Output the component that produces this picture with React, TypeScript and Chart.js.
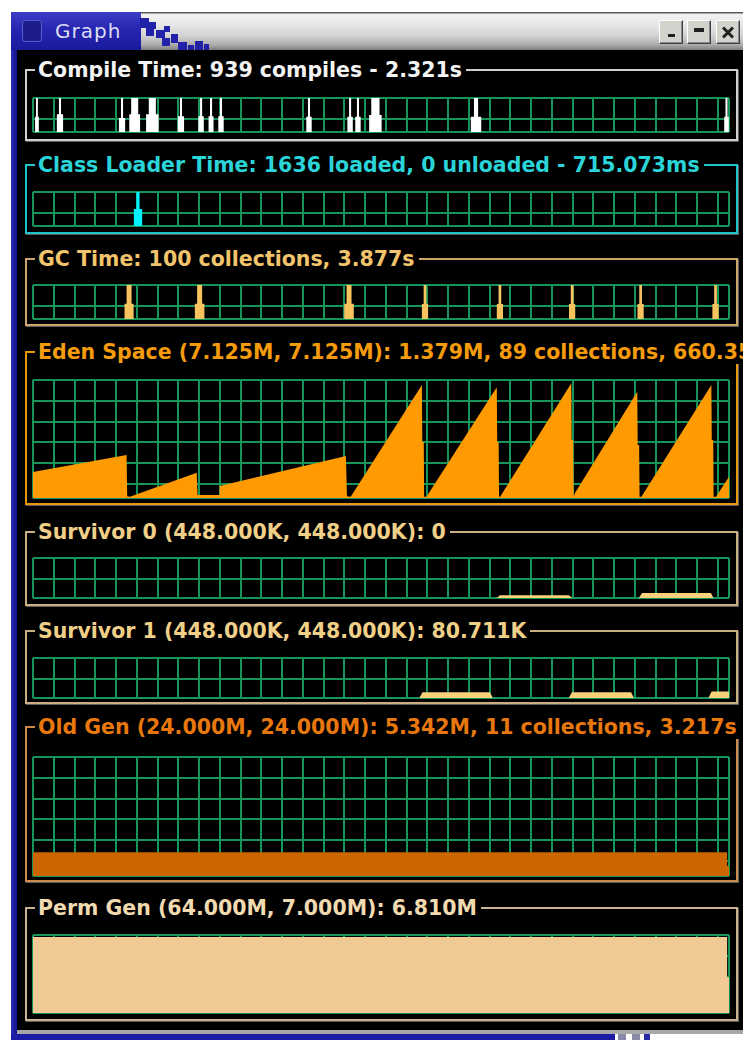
import React, { useEffect, useRef } from "react";
import { Chart, registerables } from "chart.js";

Chart.register(...registerables);

// ---------------- shared time axis (samples) ----------------
const SAMPLES = 335.4;
const GRID_EVERY = 10;

// ---------------- Compile Time spikes (0..100 % of scale) ----------------
const compileAt = [1.9, 13.0, 42.9, 49.0, 57.5, 71.3, 81.0, 85.8, 90.6, 133.0, 152.8, 156.6, 165.0, 213.5, 334.2];
const compilePeak = [100, 100, 100, 100, 100, 100, 100, 100, 100, 100, 100, 100, 100, 100, 100];
const compilePeakWidth = [0.9, 1.0, 1.0, 3.4, 3.4, 1.0, 1.0, 1.0, 1.0, 1.0, 1.0, 1.0, 4.0, 2.0, 1.0];
const compileBase = [45, 52, 41, 52, 52, 46, 46, 46, 46, 45, 45, 45, 50, 45, 45];
const compileBaseWidth = [1.8, 3.0, 3.0, 5.2, 6.0, 3.0, 2.6, 2.4, 2.6, 2.6, 2.6, 2.6, 6.0, 5.0, 2.2];

// ---------------- Class Loader Time spikes ----------------
const classAt = [50.6];
const classPeak = [100];
const classPeakWidth = [1.5];
const classBase = [50];
const classBaseWidth = [4.0];

// ---------------- GC Time spikes ----------------
const gcAt = [46.3, 80.3, 152.3, 188.9, 225.0, 259.8, 292.8, 328.9];
const gcPeak = [100, 100, 100, 100, 100, 100, 100, 100];
const gcPeakWidth = [2.4, 2.4, 2.4, 1.3, 1.3, 1.3, 1.3, 1.3];
const gcBase = [45, 45, 45, 44, 44, 44, 44, 44];
const gcBaseWidth = [4.4, 4.6, 4.6, 3.0, 3.0, 3.0, 3.0, 3.0];

// ---------------- Eden Space (MB, capacity 7.125M) ----------------
const edenT = [
  0, 45.1, 45.4, 46.7,
  78.9, 79.3, 89.9, 89.9,
  150.8, 151.3, 153.1,
  187.4, 187.6, 188.3, 188.5, 189.6,
  223.5, 223.7, 224.4, 224.6, 225.1,
  259.4, 259.6, 260.3, 260.5, 261.1,
  291.2, 291.4, 292.1, 292.3, 293.2,
  326.9, 327.1, 327.8, 328.0, 329.2,
  335.4,
];
const edenMB = [
  1.57, 2.6, 0.1, 0.08,
  1.53, 0.18, 0.18, 0.72,
  2.54, 0.1, 0.08,
  6.82, 3.38, 3.38, 0.08, 0.08,
  6.68, 3.38, 3.38, 0.08, 0.08,
  6.93, 3.5, 3.5, 0.08, 0.28,
  6.42, 3.2, 3.2, 0.08, 0.08,
  6.82, 3.5, 3.5, 0.08, 0.08,
  1.29,
];

// ---------------- Survivor 0 / 1 (K, capacity 448K) ----------------
const s0T = [0, 223.5, 225.0, 258.3, 259.8, 292.0, 293.5, 326.7, 327.9, 335.4];
const s0K = [0, 0, 30, 30, 0, 0, 55, 55, 0, 0];
const s1T = [0, 186.2, 187.7, 220.2, 221.6, 258.2, 259.7, 288.2, 289.6, 325.5, 327.0, 335.4];
const s1K = [0, 0, 65, 65, 0, 0, 65, 65, 0, 0, 72, 72];

// ---------------- Old Gen (M, capacity 24M) ----------------
const oldT = [0, 334.5, 334.5, 335.4];
const oldM = [4.8, 4.8, 2.0, 2.0];

// ---------------- Perm Gen (M, capacity 7.0M) ----------------
const permT = [0, 334.5, 334.5, 335.4];
const permM = [6.81, 6.81, 3.2, 3.2];

// ---------------- helpers ----------------
type Pt = { x: number; y: number };

const clampX = (x: number) => Math.min(SAMPLES, Math.max(0, x));

function spikeProfile(at: number[], peak: number[], peakW: number[], base: number[], baseW: number[]): Pt[] {
  const pts: Pt[] = [{ x: 0, y: 0 }];
  at.forEach((c, i) => {
    const bw = Math.max(baseW[i], peakW[i]) / 2;
    const pw = peakW[i] / 2;
    pts.push(
      { x: clampX(c - bw), y: 0 },
      { x: clampX(c - bw), y: base[i] },
      { x: clampX(c - pw), y: base[i] },
      { x: clampX(c - pw), y: peak[i] },
      { x: clampX(c + pw), y: peak[i] },
      { x: clampX(c + pw), y: base[i] },
      { x: clampX(c + bw), y: base[i] },
      { x: clampX(c + bw), y: 0 }
    );
  });
  if (pts[pts.length - 1].x < SAMPLES) pts.push({ x: SAMPLES, y: 0 });
  return pts;
}

function series(t: number[], v: number[]): Pt[] {
  return t.map((x, i) => ({ x, y: v[i] }));
}

// ---------------- layout / style ----------------
const PLOT_LEFT = 33;
const PLOT_W = 696;
const PAD = 2;
const GRID_PX = (PLOT_W / SAMPLES) * GRID_EVERY;
const GRID_COLOR = "#16955a";
const FRAME_LEFT = 25;
const FRAME_RIGHT = 738;
const FONT = "'DejaVu Sans', 'Liberation Sans', sans-serif";

type Panel = {
  title: string;
  text: string;
  frame: string;
  fill: string;
  fTop: number;
  fBot: number;
  pTop: number;
  pBot: number;
  yMax: number;
  points: Pt[];
};

const panels: Panel[] = [
  {
    title: "Compile Time: 939 compiles - 2.321s",
    text: "#f4f4f4", frame: "#cfcfcf", fill: "#ffffff",
    fTop: 70, fBot: 140, pTop: 98, pBot: 132, yMax: 100,
    points: spikeProfile(compileAt, compilePeak, compilePeakWidth, compileBase, compileBaseWidth),
  },
  {
    title: "Class Loader Time: 1636 loaded, 0 unloaded - 715.073ms",
    text: "#2ad4d8", frame: "#22c4cc", fill: "#00f4ff",
    fTop: 165, fBot: 233, pTop: 192, pBot: 226, yMax: 100,
    points: spikeProfile(classAt, classPeak, classPeakWidth, classBase, classBaseWidth),
  },
  {
    title: "GC Time: 100 collections, 3.877s",
    text: "#f2c46c", frame: "#caa66a", fill: "#f7c35e",
    fTop: 259, fBot: 325, pTop: 285, pBot: 319, yMax: 100,
    points: spikeProfile(gcAt, gcPeak, gcPeakWidth, gcBase, gcBaseWidth),
  },
  {
    title: "Eden Space (7.125M, 7.125M): 1.379M, 89 collections, 660.359ms",
    text: "#f59b0c", frame: "#e8960e", fill: "#ff9a00",
    fTop: 352, fBot: 504, pTop: 380, pBot: 498, yMax: 7.125,
    points: series(edenT, edenMB),
  },
  {
    title: "Survivor 0 (448.000K, 448.000K): 0",
    text: "#f0d088", frame: "#c9ae80", fill: "#f7d27a",
    fTop: 532, fBot: 605, pTop: 558, pBot: 598, yMax: 448,
    points: series(s0T, s0K),
  },
  {
    title: "Survivor 1 (448.000K, 448.000K): 80.711K",
    text: "#f0d088", frame: "#c9ae80", fill: "#f7d27a",
    fTop: 631, fBot: 703, pTop: 658, pBot: 698, yMax: 448,
    points: series(s1T, s1K),
  },
  {
    title: "Old Gen (24.000M, 24.000M): 5.342M, 11 collections, 3.217s",
    text: "#e8780e", frame: "#c98a4a", fill: "#cc6600",
    fTop: 727, fBot: 881, pTop: 757, pBot: 876, yMax: 24,
    points: series(oldT, oldM),
  },
  {
    title: "Perm Gen (64.000M, 7.000M): 6.810M",
    text: "#f2dab0", frame: "#c9b28e", fill: "#f1c995",
    fTop: 908, fBot: 1020, pTop: 935, pBot: 1013, yMax: 7.0,
    points: series(permT, permM),
  },
];

function Plot({ p }: { p: Panel }) {
  const ref = useRef<HTMLCanvasElement>(null);
  const height = p.pBot - p.pTop;
  useEffect(() => {
    if (!ref.current) return;
    const yStep = (p.yMax * GRID_PX) / height;
    const yTicks: { value: number }[] = [];
    for (let v = p.yMax; v > yStep * 0.2; v -= yStep) yTicks.push({ value: v });
    yTicks.push({ value: 0 });
    const xTicks: { value: number }[] = [];
    for (let v = 0; v < SAMPLES - 1; v += GRID_EVERY) xTicks.push({ value: v });
    xTicks.push({ value: SAMPLES });
    const grid = { color: GRID_COLOR, lineWidth: 2, drawTicks: false };
    const chart = new Chart(ref.current, {
      type: "line",
      data: {
        datasets: [
          {
            data: p.points,
            backgroundColor: p.fill,
            borderColor: "rgba(0,0,0,0)",
            borderWidth: 0,
            pointRadius: 0,
            fill: "origin",
            tension: 0,
          },
        ],
      },
      options: {
        responsive: false,
        animation: false,
        devicePixelRatio: 1,
        events: [],
        layout: { padding: PAD },
        plugins: { legend: { display: false }, tooltip: { enabled: false }, title: { display: false } },
        scales: {
          x: {
            type: "linear",
            min: 0,
            max: SAMPLES,
            ticks: { display: false },
            grid,
            border: { display: false },
            afterBuildTicks: (a: any) => {
              a.ticks = xTicks;
            },
          },
          y: {
            type: "linear",
            min: 0,
            max: p.yMax,
            ticks: { display: false },
            grid,
            border: { display: false },
            afterBuildTicks: (a: any) => {
              a.ticks = yTicks;
            },
          },
        },
      } as any,
    });
    return () => chart.destroy();
  }, []);
  return (
    <canvas
      ref={ref}
      width={PLOT_W + 2 * PAD}
      height={height + 2 * PAD}
      style={{ position: "absolute", left: PLOT_LEFT - PAD, top: p.pTop - PAD, width: PLOT_W + 2 * PAD, height: height + 2 * PAD }}
    />
  );
}

function Frame({ p }: { p: Panel }) {
  return (
    <>
      <div
        style={{
          position: "absolute",
          left: FRAME_LEFT,
          top: p.fTop - 1,
          width: FRAME_RIGHT - FRAME_LEFT,
          height: p.fBot - p.fTop + 2,
          border: `2px solid ${p.frame}`,
          boxSizing: "border-box",
          boxShadow: "1px 1px 0 0 rgba(110,110,110,0.85)",
        }}
      />
      <div
        style={{
          position: "absolute",
          left: 35,
          top: p.fTop - 12,
          height: 24,
          lineHeight: "24px",
          fontFamily: FONT,
          fontWeight: "bold",
          fontSize: 20.5,
          color: p.text,
          background: "#000",
          padding: "0 4px 0 3px",
          whiteSpace: "nowrap",
        }}
      >
        {p.title}
      </div>
      <Plot p={p} />
    </>
  );
}

const dither: number[][] = [
  [140, 18, 9, 10], [149, 22, 7, 7], [146, 28, 8, 8], [156, 30, 9, 8], [164, 26, 6, 6],
  [162, 38, 8, 8], [171, 34, 7, 9], [178, 42, 9, 8], [188, 45, 6, 5], [195, 41, 8, 9], [204, 44, 5, 6],
];

function TitleButton({ left, kind }: { left: number; kind: string }) {
  return (
    <div
      style={{
        position: "absolute",
        left,
        top: 20,
        width: 24,
        height: 24,
        boxSizing: "border-box",
        background: "#d4d2cc",
        borderTop: "1px solid #ffffff",
        borderLeft: "1px solid #ffffff",
        borderRight: "1px solid #404040",
        borderBottom: "1px solid #404040",
        boxShadow: "inset -1px -1px 0 #8a8a8a",
      }}
    >
      {kind === "min" && <div style={{ position: "absolute", left: 8, top: 13, width: 7, height: 3, background: "#202020" }} />}
      {kind === "max" && <div style={{ position: "absolute", left: 6, top: 7, width: 10, height: 4, background: "#202020" }} />}
      {kind === "close" && (
        <>
          <div style={{ position: "absolute", left: 4, top: 9.5, width: 14, height: 3, background: "#202020", transform: "rotate(45deg)" }} />
          <div style={{ position: "absolute", left: 4, top: 9.5, width: 14, height: 3, background: "#202020", transform: "rotate(-45deg)" }} />
        </>
      )}
    </div>
  );
}

export default function App() {
  return (
    <div style={{ position: "fixed", left: 0, top: 0, width: 743, height: 1040, overflow: "hidden", background: "#ffffff" }}>
      {/* title bar */}
      <div
        style={{
          position: "absolute",
          left: 11,
          top: 12,
          width: 740,
          height: 38,
          background:
            "linear-gradient(to bottom, #5a5a5a 0px, #5a5a5a 1px, #f2f2f2 2px, #e8e8e8 12px, #d2d2d2 24px, #ababab 33px, #7c7c7c 38px)",
        }}
      />
      <div
        style={{
          position: "absolute",
          left: 11,
          top: 12,
          width: 130,
          height: 38,
          background: "linear-gradient(to bottom, #3c3cc6, #2424ae 50%, #1a1a9e)",
        }}
      />
      {dither.map((d, i) => (
        <div key={i} style={{ position: "absolute", left: d[0], top: d[1], width: d[2], height: d[3], background: "#2222a8" }} />
      ))}
      <div
        style={{
          position: "absolute",
          left: 22,
          top: 20,
          width: 20,
          height: 22,
          boxSizing: "border-box",
          background: "#1c1c8c",
          border: "1px solid #5a5ad0",
          borderRadius: 3,
        }}
      />
      <div
        style={{
          position: "absolute",
          left: 55,
          top: 18,
          lineHeight: "26px",
          fontFamily: FONT,
          fontSize: 20,
          letterSpacing: 1,
          color: "#dcdcf4",
          whiteSpace: "nowrap",
        }}
      >
        Graph
      </div>
      <TitleButton left={659} kind="min" />
      <TitleButton left={687} kind="max" />
      <TitleButton left={716} kind="close" />

      {/* body */}
      <div style={{ position: "absolute", left: 17, top: 50, width: 730, height: 980, background: "#000" }} />
      <div style={{ position: "absolute", left: 11, top: 50, width: 6, height: 990, background: "linear-gradient(to right, #2a2ab4, #14148c)" }} />
      <div style={{ position: "absolute", left: 17, top: 1030, width: 730, height: 4, background: "#a8a8a8" }} />
      <div style={{ position: "absolute", left: 11, top: 1034, width: 604, height: 6, background: "#1c1ca4" }} />
      <div style={{ position: "absolute", left: 618, top: 1034, width: 8, height: 6, background: "#8a8aa8" }} />
      <div style={{ position: "absolute", left: 632, top: 1034, width: 8, height: 6, background: "#8a8aa8" }} />
      <div style={{ position: "absolute", left: 644, top: 1034, width: 6, height: 6, background: "#2a2aa8" }} />

      {panels.map((p, i) => (
        <Frame key={i} p={p} />
      ))}
    </div>
  );
}
